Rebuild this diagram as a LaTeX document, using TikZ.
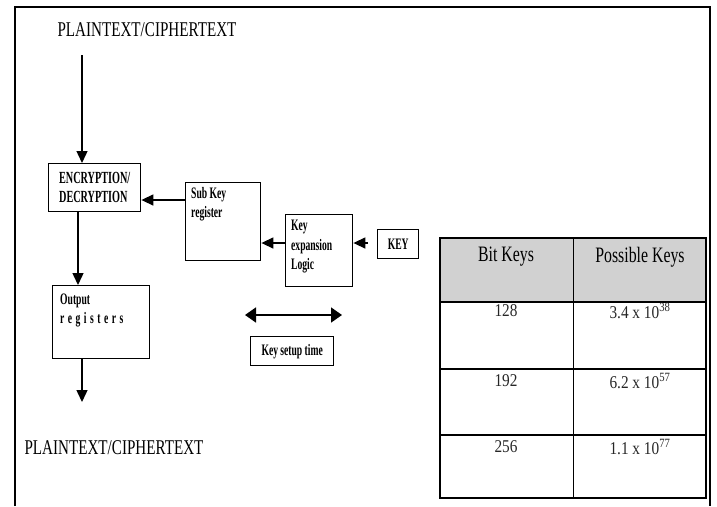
\documentclass[tikz,border=0pt]{standalone}
\usepackage{fontspec}
\setmainfont{Liberation Serif}
\newfontfamily\cond[FakeStretch=0.72]{Liberation Serif}
\newfontfamily\narw[FakeStretch=0.6]{Liberation Serif}
\newfontfamily\tabn[FakeStretch=0.85]{Liberation Serif}
\usetikzlibrary{arrows.meta}
\tikzset{
  box/.style={draw, line width=1.4pt, inner sep=0pt, anchor=north west},
  lbl/.style={inner sep=0pt, anchor=north west, align=left, font=\narw\bfseries\fontsize{16}{19}\selectfont},
  big/.style={inner sep=0pt, font=\cond\fontsize{21}{24}\selectfont},
  flow/.style={line width=1.4pt, -{Triangle[length=12pt,width=11pt]}},
  hdr/.style={inner sep=0pt, font=\cond\fontsize{22}{24}\selectfont},
  num/.style={inner sep=0pt, font=\tabn\fontsize{18}{20}\selectfont, text=black!85},
}
\begin{document}
\begin{tikzpicture}[x=1pt,y=-1pt]
\useasboundingbox (0,0) rectangle (717,506);
% outer frame (open at bottom)
\draw[line width=2.2pt] (15,506) -- (15,7) -- (710,7) -- (710,506);

% titles
\node[big] (top) at (147,30) {PLAINTEXT/CIPHERTEXT};
\node[big] (bot) at (114,448) {PLAINTEXT/CIPHERTEXT};

% boxes
\node[box, minimum width=92pt, minimum height=48pt, align=left,
      font=\narw\bfseries\fontsize{17}{19}\selectfont] (enc) at (48,163) {ENCRYPTION/\\DECRYPTION};
\node[box, minimum width=75pt, minimum height=78pt] (sub) at (185,182) {};
\node[lbl] at (191,187) {Sub Key\\register};
\node[box, minimum width=67pt, minimum height=72pt] (kex) at (285,214) {};
\node[lbl, font=\narw\bfseries\fontsize{16}{19.5}\selectfont] at (291,220) {Key\\expansion\\Logic};
\node[box, minimum width=41pt, minimum height=29pt, font=\narw\bfseries\fontsize{16}{18}\selectfont] (key) at (377,229) {KEY};
\node[box, minimum width=83pt, minimum height=29pt, font=\narw\bfseries\fontsize{16}{18}\selectfont] (set) at (250,336) {Key setup time};
\node[box, minimum width=97pt, minimum height=73pt] (out) at (52,285) {};
\node[lbl, font=\narw\bfseries\fontsize{16}{19}\selectfont] at (60,294) {Output\\\addfontfeature{LetterSpace=22}registers};

% connectors
\coordinate (topa) at (82,55);
\draw[flow] (topa) -- (82,163);
\draw[flow] (sub.west |- 0,200) -- (enc.east |- 0,200);
\draw[flow] (kex.west |- 0,243) -- (sub.east |- 0,243);
\draw[flow] ([xshift=-9pt]key.west |- 0,243) -- (kex.east |- 0,243);
\draw[flow] (78,211) -- (78,285);
\coordinate (outa) at (82,402);
\draw[flow] (82,358) -- (outa);
\coordinate (da) at (245,315);
\coordinate (db) at (342,315);
\draw[line width=1.6pt, {Triangle[length=11pt,width=15pt]}-{Triangle[length=11pt,width=15pt]}] (da) -- (db);

% table
\fill[black!18] (440,238) rectangle (706,302);
\draw[line width=1.2pt] (440,302) -- (706,302);
\draw[line width=1.2pt] (440,369) -- (706,369);
\draw[line width=1.2pt] (440,435) -- (706,435);
\draw[line width=1pt] (573,238) -- (573,498);
\draw[line width=2pt] (440,238) rectangle (706,498);
\node[hdr] (h1) at (506,257) {Bit Keys};
\node[hdr] (h2) at (640,257) {Possible Keys};
\node[num] (a1) at (506,311) {128};
\node[num] (b1) at (640,311) {3.4 x 10\textsuperscript{38}};
\node[num] (a2) at (506,381) {192};
\node[num] (b2) at (640,381) {6.2 x 10\textsuperscript{57}};
\node[num] (a3) at (506,447) {256};
\node[num] (b3) at (640,447) {1.1 x 10\textsuperscript{77}};
\end{tikzpicture}
\end{document}
